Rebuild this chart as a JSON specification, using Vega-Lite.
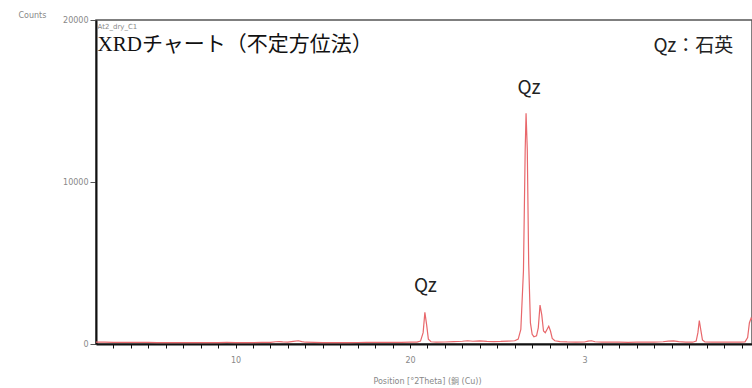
{
  "$schema": "https://vega.github.io/schema/vega-lite/v6.json",
  "autosize": "none",
  "width": 656,
  "height": 324,
  "padding": {"left": 96, "top": 20, "right": 0, "bottom": 44},
  "background": "white",
  "config": {"view": {"stroke": "#555", "strokeWidth": 1.5}, "axisX": {"labelOverlap": false, "labelFlush": false}},
  "datasets": {
    "xrd": [
      {"t": 2.0, "c": 120}, {"t": 2.5, "c": 110}, {"t": 3, "c": 105}, {"t": 3.5, "c": 100}, {"t": 4, "c": 100},
      {"t": 4.5, "c": 95}, {"t": 5, "c": 95}, {"t": 5.5, "c": 90}, {"t": 6, "c": 90}, {"t": 6.5, "c": 90},
      {"t": 7, "c": 88}, {"t": 7.5, "c": 85}, {"t": 8, "c": 85}, {"t": 8.5, "c": 85}, {"t": 9, "c": 90},
      {"t": 9.5, "c": 95}, {"t": 10, "c": 90}, {"t": 10.5, "c": 85}, {"t": 11, "c": 90}, {"t": 11.5, "c": 95},
      {"t": 12, "c": 100}, {"t": 12.3, "c": 140}, {"t": 12.5, "c": 150}, {"t": 12.7, "c": 130}, {"t": 13, "c": 120},
      {"t": 13.3, "c": 160}, {"t": 13.6, "c": 200}, {"t": 13.8, "c": 150}, {"t": 14, "c": 110}, {"t": 14.5, "c": 95},
      {"t": 15, "c": 90}, {"t": 15.5, "c": 88}, {"t": 16, "c": 90}, {"t": 16.5, "c": 90}, {"t": 17, "c": 92},
      {"t": 17.5, "c": 95}, {"t": 18, "c": 95}, {"t": 18.5, "c": 100}, {"t": 19, "c": 100}, {"t": 19.5, "c": 105},
      {"t": 20, "c": 110}, {"t": 20.4, "c": 120}, {"t": 20.6, "c": 180}, {"t": 20.75, "c": 700}, {"t": 20.85, "c": 1950},
      {"t": 20.95, "c": 1200}, {"t": 21.05, "c": 300}, {"t": 21.2, "c": 140}, {"t": 21.5, "c": 120}, {"t": 22, "c": 125},
      {"t": 22.5, "c": 150}, {"t": 23, "c": 170}, {"t": 23.3, "c": 200}, {"t": 23.6, "c": 170}, {"t": 24, "c": 190},
      {"t": 24.4, "c": 160}, {"t": 24.8, "c": 150}, {"t": 25.2, "c": 160}, {"t": 25.6, "c": 180}, {"t": 26, "c": 200},
      {"t": 26.2, "c": 300}, {"t": 26.35, "c": 900}, {"t": 26.5, "c": 4500}, {"t": 26.6, "c": 12000}, {"t": 26.65, "c": 14250},
      {"t": 26.72, "c": 12000}, {"t": 26.8, "c": 5000}, {"t": 26.9, "c": 1300}, {"t": 27.0, "c": 600}, {"t": 27.1, "c": 450},
      {"t": 27.25, "c": 500}, {"t": 27.35, "c": 1000}, {"t": 27.45, "c": 2400}, {"t": 27.55, "c": 1800}, {"t": 27.65, "c": 800},
      {"t": 27.75, "c": 700}, {"t": 27.85, "c": 900}, {"t": 27.95, "c": 1100}, {"t": 28.05, "c": 800}, {"t": 28.15, "c": 350},
      {"t": 28.3, "c": 200}, {"t": 28.6, "c": 150}, {"t": 29, "c": 130}, {"t": 29.5, "c": 120}, {"t": 30, "c": 125},
      {"t": 30.2, "c": 180}, {"t": 30.4, "c": 200}, {"t": 30.6, "c": 140}, {"t": 31, "c": 120}, {"t": 31.5, "c": 110},
      {"t": 32, "c": 110}, {"t": 32.5, "c": 105}, {"t": 33, "c": 110}, {"t": 33.5, "c": 115}, {"t": 34, "c": 120},
      {"t": 34.5, "c": 140}, {"t": 34.8, "c": 180}, {"t": 35.1, "c": 190}, {"t": 35.4, "c": 150}, {"t": 35.8, "c": 120},
      {"t": 36.2, "c": 110}, {"t": 36.4, "c": 180}, {"t": 36.5, "c": 700}, {"t": 36.58, "c": 1450}, {"t": 36.66, "c": 900},
      {"t": 36.76, "c": 250}, {"t": 36.9, "c": 130}, {"t": 37.3, "c": 115}, {"t": 37.7, "c": 110}, {"t": 38.1, "c": 110},
      {"t": 38.5, "c": 115}, {"t": 38.9, "c": 115}, {"t": 39.2, "c": 130}, {"t": 39.35, "c": 400}, {"t": 39.45, "c": 1300},
      {"t": 39.55, "c": 1600}, {"t": 39.6, "c": 1500}
    ],
    "notes": [
      {"t": 2.09, "c": 18450, "label": "XRDチャート（不定方位法）", "kind": "title"},
      {"t": 2.09, "c": 19550, "label": "At2_dry_C1", "kind": "sample"},
      {"t": 36.24, "c": 18400, "label": "Qz：石英", "kind": "legend"},
      {"t": 26.82, "c": 15800, "label": "Qz", "kind": "peak"},
      {"t": 20.88, "c": 3580, "label": "Qz", "kind": "peak"}
    ]
  },
  "layer": [
    {
      "data": {"name": "xrd"},
      "mark": {"type": "line", "color": "#E8676B", "strokeWidth": 1.2, "clip": true},
      "encoding": {
        "x": {
          "field": "t", "type": "quantitative",
          "scale": {"domain": [2, 39.6], "nice": false, "zero": false},
          "axis": {
            "values": [3,4,5,6,7,8,9,10,11,12,13,14,15,16,17,18,19,20,21,22,23,24,25,26,27,28,29,30,31,32,33,34,35,36,37,38,39],
            "tickCount": 50,
            "labelExpr": "datum.value == 30 ? '3' : (datum.value == 10 || datum.value == 20 ? datum.label : '')",
            "labelOverlap": false,
            "labelBound": false,
            "labelFlush": false,
            "labelFont": "DejaVu Sans", "labelFontSize": 8, "labelColor": "#888", "labelPadding": 8,
            "domainColor": "#111", "domainWidth": 2,
            "tickColor": "#111", "tickSize": 4, "tickWidth": 1,
            "grid": false,
            "title": "Position [°2Theta] (銅 (Cu))",
            "titleFont": "DejaVu Sans, Noto Sans CJK JP", "titleFontSize": 8, "titleFontWeight": "normal", "titleColor": "#888",
            "titleX": 331, "titleY": 33, "titleAlign": "center",
            "encode": {"ticks": {"update": {"y2": {"signal": "datum.value % 10 === 0 ? 8 : 4"}}}}
          }
        },
        "y": {
          "field": "c", "type": "quantitative",
          "scale": {"domain": [0, 20000], "nice": false},
          "axis": {
            "values": [0, 10000, 20000],
            "format": "d",
            "labelFont": "DejaVu Sans", "labelFontSize": 8, "labelColor": "#888", "labelPadding": 2,
            "domainColor": "#111", "domainWidth": 2,
            "tickColor": "#555", "tickSize": 6,
            "grid": false,
            "title": "Counts",
            "titleFont": "DejaVu Sans", "titleFontSize": 8, "titleFontWeight": "normal", "titleColor": "#888",
            "titleAngle": 0, "titleAlign": "left", "titleBaseline": "middle",
            "titleX": -78, "titleY": -5
          }
        }
      }
    },
    {
      "data": {"name": "notes"},
      "transform": [{"filter": "datum.kind === 'title'"}],
      "mark": {"type": "text", "align": "left", "baseline": "middle", "fontSize": 21, "font": "Liberation Serif, Noto Sans CJK JP", "color": "#111"},
      "encoding": {"x": {"field": "t", "type": "quantitative"}, "y": {"field": "c", "type": "quantitative"}, "text": {"field": "label"}}
    },
    {
      "data": {"name": "notes"},
      "transform": [{"filter": "datum.kind === 'sample'"}],
      "mark": {"type": "text", "align": "left", "baseline": "middle", "fontSize": 7, "font": "DejaVu Sans", "color": "#888"},
      "encoding": {"x": {"field": "t", "type": "quantitative"}, "y": {"field": "c", "type": "quantitative"}, "text": {"field": "label"}}
    },
    {
      "data": {"name": "notes"},
      "transform": [{"filter": "datum.kind === 'legend' || datum.kind === 'peak'"}],
      "mark": {"type": "text", "align": "center", "baseline": "middle", "fontSize": 19, "font": "Noto Sans CJK JP", "color": "#222"},
      "encoding": {"x": {"field": "t", "type": "quantitative"}, "y": {"field": "c", "type": "quantitative"}, "text": {"field": "label"}}
    }
  ]
}
